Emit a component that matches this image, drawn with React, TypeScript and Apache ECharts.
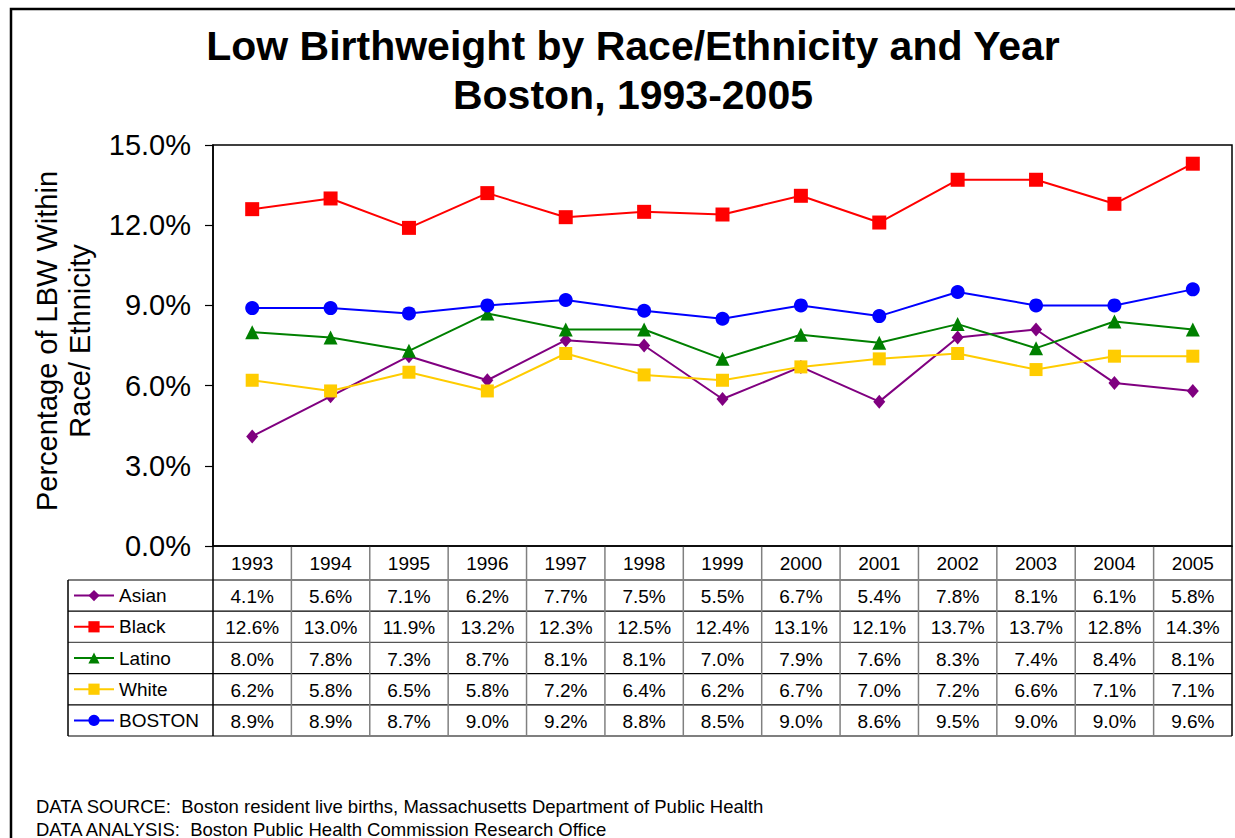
import React, { useEffect, useRef } from "react";
import * as echarts from "echarts";

const years = ["1993","1994","1995","1996","1997","1998","1999","2000","2001","2002","2003","2004","2005"];
const asian = [4.1, 5.6, 7.1, 6.2, 7.7, 7.5, 5.5, 6.7, 5.4, 7.8, 8.1, 6.1, 5.8];
const black = [12.6, 13.0, 11.9, 13.2, 12.3, 12.5, 12.4, 13.1, 12.1, 13.7, 13.7, 12.8, 14.3];
const latino = [8.0, 7.8, 7.3, 8.7, 8.1, 8.1, 7.0, 7.9, 7.6, 8.3, 7.4, 8.4, 8.1];
const white = [6.2, 5.8, 6.5, 5.8, 7.2, 6.4, 6.2, 6.7, 7.0, 7.2, 6.6, 7.1, 7.1];
const boston = [8.9, 8.9, 8.7, 9.0, 9.2, 8.8, 8.5, 9.0, 8.6, 9.5, 9.0, 9.0, 9.6];

const seriesNames = ["Asian", "Black", "Latino", "White", "BOSTON"];
const seriesData = [asian, black, latino, white, boston];
const seriesColors = ["#800080", "#FF0000", "#008000", "#FFCC00", "#0000FF"];
const seriesSymbols = ["diamond", "rect", "triangle", "rect", "circle"];
const seriesSymbolSizes: any[] = [[12, 14], 14, 14, 13, 14];

const yMin = 0, yMax = 15, yInterval = 3;

const W = 1235, H = 838;
const FONT = "Arial, 'Liberation Sans', sans-serif";
const gridLeft = 213, gridRight = 1232, gridTop = 145, gridBottom = 546;
const headerBottom = 580;
const rowH = 31.2;
const tableLeft = 68;

export default function App() {
  const ref = useRef<HTMLDivElement>(null);
  useEffect(() => {
    if (!ref.current) return;
    const chart = echarts.init(ref.current, null, { renderer: "svg" });
    const colW = (gridRight - gridLeft) / years.length;
    const graphics: any[] = [];
    // outer border
    graphics.push({ type: "rect", shape: { x: 11, y: 9, width: 1400, height: 1000 }, style: { fill: "none", stroke: "#000", lineWidth: 2.5 }, silent: true });
    // title
    graphics.push({ type: "text", x: 633, y: 70, style: { text: "Low Birthweight by Race/Ethnicity and Year\nBoston, 1993-2005", font: `bold 41px ${FONT}`, fill: "#000", align: "center", verticalAlign: "middle", lineHeight: 49 } });
    // y axis title
    graphics.push({ type: "text", x: 63.5, y: 341, rotation: Math.PI / 2, style: { text: "Percentage of LBW Within\nRace/ Ethnicity", font: `29px ${FONT}`, fill: "#000", align: "center", verticalAlign: "middle", lineHeight: 33 } });
    // table lines
    const tableBottom = headerBottom + rowH * seriesNames.length;
    for (let r = 0; r <= seriesNames.length; r++) {
      const y = headerBottom + r * rowH;
      graphics.push({ type: "line", shape: { x1: tableLeft, y1: y, x2: gridRight, y2: y }, style: { stroke: r === 2 ? "#555" : "#000", lineWidth: 1.2 }, silent: true });
    }
    for (let c = 1; c < years.length; c++) {
      const x = gridLeft + c * colW;
      graphics.push({ type: "line", shape: { x1: x, y1: gridBottom, x2: x, y2: tableBottom }, style: { stroke: "#808080", lineWidth: 1.5 }, silent: true });
    }
    graphics.push({ type: "line", shape: { x1: tableLeft, y1: headerBottom, x2: tableLeft, y2: tableBottom }, style: { stroke: "#000", lineWidth: 1.5 }, silent: true });
    graphics.push({ type: "line", shape: { x1: gridLeft, y1: gridBottom, x2: gridLeft, y2: tableBottom }, style: { stroke: "#000", lineWidth: 1.5 }, silent: true });
    graphics.push({ type: "line", shape: { x1: gridRight, y1: gridBottom, x2: gridRight, y2: tableBottom }, style: { stroke: "#000", lineWidth: 1.5 }, silent: true });
    // table values
    seriesData.forEach((arr, r) => {
      arr.forEach((v, c) => {
        graphics.push({ type: "text", x: gridLeft + (c + 0.5) * colW, y: headerBottom + (r + 0.5) * rowH + 1, style: { text: v.toFixed(1) + "%", font: `19px ${FONT}`, fill: "#000", align: "center", verticalAlign: "middle" } });
      });
    });
    // footer
    graphics.push({ type: "text", x: 36, y: 806, style: { text: "DATA SOURCE:  Boston resident live births, Massachusetts Department of Public Health", font: `18.5px ${FONT}`, fill: "#000", align: "left", verticalAlign: "middle" } });
    graphics.push({ type: "text", x: 36, y: 829, style: { text: "DATA ANALYSIS:  Boston Public Health Commission Research Office", font: `18.5px ${FONT}`, fill: "#000", align: "left", verticalAlign: "middle" } });

    const legends = seriesNames.map((n, i) => ({
      data: [n],
      orient: "vertical",
      left: 73,
      top: headerBottom + (i + 0.5) * rowH - 9.5,
      padding: 0,
      itemWidth: 40,
      itemHeight: 14,
      itemGap: 0,
      selectedMode: false,
      textStyle: { fontSize: 19, color: "#000", fontFamily: FONT },
    }));

    chart.setOption({
      animation: false,
      backgroundColor: "#fff",
      grid: { left: gridLeft, top: gridTop, width: gridRight - gridLeft, height: gridBottom - gridTop, show: true, borderColor: "#000", borderWidth: 1.5, backgroundColor: "transparent" },
      legend: legends,
      xAxis: {
        type: "category",
        data: years,
        boundaryGap: true,
        axisLine: { show: true, lineStyle: { color: "#000", width: 1.5 } },
        axisTick: { show: false },
        axisLabel: { fontSize: 19, color: "#000", fontFamily: FONT, margin: 8 },
        splitLine: { show: false },
      },
      yAxis: {
        type: "value",
        min: yMin,
        max: yMax,
        interval: yInterval,
        axisLine: { show: true, lineStyle: { color: "#000", width: 1.5 } },
        axisTick: { show: true, length: 8, lineStyle: { color: "#000", width: 1.2 } },
        axisLabel: { fontSize: 29, color: "#000", fontFamily: FONT, margin: 22, formatter: (v: number) => v.toFixed(1) + "%" },
        splitLine: { show: false },
      },
      series: seriesNames.map((n, i) => ({
        name: n,
        type: "line",
        data: seriesData[i],
        symbol: seriesSymbols[i],
        symbolSize: seriesSymbolSizes[i],
        showAllSymbol: true,
        lineStyle: { color: seriesColors[i], width: 2 },
        itemStyle: { color: seriesColors[i] },
        emphasis: { disabled: true },
      })),
      graphic: graphics,
    });
    return () => chart.dispose();
  }, []);
  return <div ref={ref} style={{ position: "absolute", left: 0, top: 0, width: W, height: H }} />;
}
